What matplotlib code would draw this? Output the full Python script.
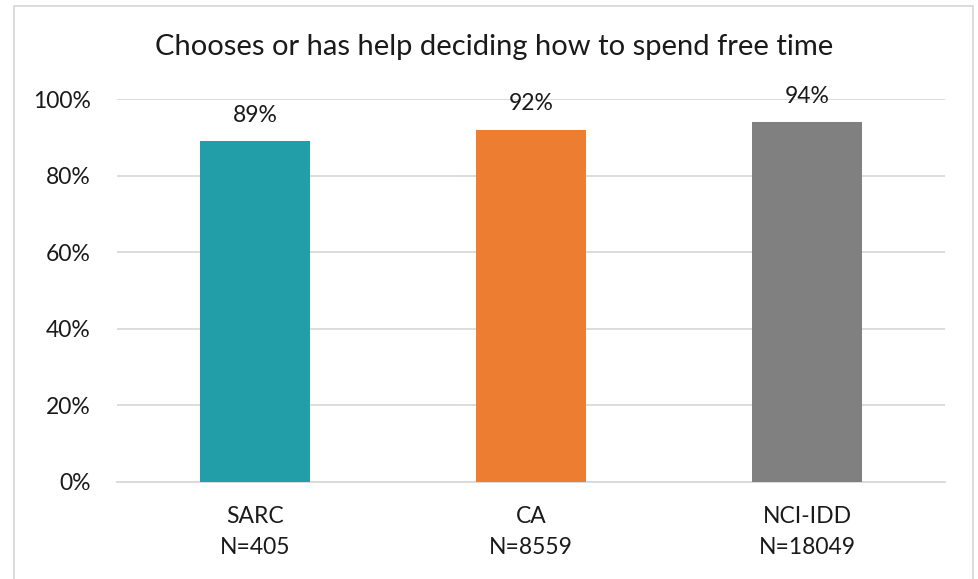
import matplotlib
matplotlib.use('Agg')
import matplotlib.pyplot as plt
from matplotlib.patches import Rectangle
from matplotlib.ticker import PercentFormatter

plt.rcParams['font.family'] = ['Lato', 'DejaVu Sans']

groups = ['SARC', 'CA', 'NCI-IDD']
sizes = ['N=405', 'N=8559', 'N=18049']
values = [0.89, 0.92, 0.94]
colors = ['#229ea8', '#ed7d31', '#808080']

W, H = 979, 579
fig = plt.figure(figsize=(W / 100, H / 100), dpi=100)
ax = fig.add_axes([117 / W, (H - 482) / H, (945 - 117) / W, (482 - 99) / H])

x = range(len(groups))
bars = ax.bar(x, values, width=0.4, color=colors, zorder=3)
for b, v in zip(bars, values):
    ax.text(b.get_x() + b.get_width() / 2, v + 0.04, '{:.0%}'.format(v),
            ha='center', va='bottom', fontsize=16.5, color='#1a1a1a')

ax.set_xlim(-0.5, len(groups) - 0.5)
ax.set_ylim(0, 1)
ax.set_yticks([0, 0.2, 0.4, 0.6, 0.8, 1.0])
ax.yaxis.set_major_formatter(PercentFormatter(1.0, decimals=0))
ax.set_xticks(list(x))
ax.set_xticklabels([g + '\n' + n for g, n in zip(groups, sizes)], linespacing=1.6)
ax.tick_params(axis='both', length=0, labelsize=16.5, labelcolor='#1a1a1a')
ax.tick_params(axis='x', pad=17)
ax.tick_params(axis='y', pad=19)
ax.grid(axis='y', color='#d9d9d9', linewidth=1.3, zorder=0)
for s in ['top', 'right', 'left']:
    ax.spines[s].set_visible(False)
ax.spines['bottom'].set_color('#d9d9d9')
ax.spines['bottom'].set_linewidth(1.3)

fig.text((152 + 836) / 2 / W, 1 - 47 / H, 'Chooses or has help deciding how to spend free time',
         ha='center', va='center', fontsize=21, color='#1a1a1a')

fig.patches.append(Rectangle((14 / W, -0.01), (973 - 14) / W, 1.01 - 6 / H,
                             transform=fig.transFigure, fill=False,
                             edgecolor='#d9d9d9', linewidth=1.3))

plt.savefig('out.png', dpi=100)
